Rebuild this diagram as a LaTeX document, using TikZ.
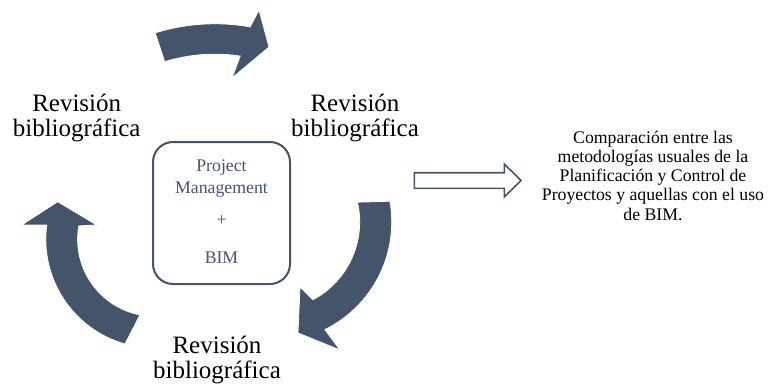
\documentclass[tikz,border=0pt]{standalone}
\usepackage{fontspec}
\setmainfont{Liberation Serif}
\definecolor{slate}{HTML}{44546A}
\begin{document}
\begin{tikzpicture}[x=0.75pt,y=-0.75pt,
  cyclearrow/.style={fill=slate,draw=white,line width=0.6pt,line join=miter},
  biglabel/.style={align=center,inner sep=0pt,font=\fontsize{18.75pt}{18.75pt}\selectfont},
  hub/.style={draw=slate,line width=1.5pt,rounded corners=15pt,minimum width=102.75pt,minimum height=106.5pt,inner sep=0pt},
  hubtext/.style={align=center,inner sep=0pt,text=slate,font=\fontsize{13.3pt}{16.2pt}\selectfont},
  outtext/.style={align=center,inner sep=0pt,font=\fontsize{13.3pt}{14.4pt}\selectfont},
  hollow/.style={draw=slate,line width=1.2pt,fill=white,line join=miter}]
\useasboundingbox (0,0) rectangle (768,389);
% labels (base anchor = baseline of the last line)
\node[biglabel,anchor=base] (lbl) at (76.7,136.5) {Revisión\\bibliográfica};
\node[biglabel,anchor=base] (lbr) at (355,136.5) {Revisión\\bibliográfica};
\node[biglabel,anchor=base] (lbb) at (217,378) {Revisión\\bibliográfica};
% central box
\node[hub] (hub) at (221.5,213) {};
\node[hubtext,anchor=base] (hubt) at (221.5,263.3) {Project\\Management\\[8.3pt]+\\[11.8pt]BIM};
% cycle arrows
\fill[cyclearrow] (164.7,61.8) -- (155.2,32.9) arc[start angle=-107.4,end angle=-79.8,radius=199.4]
  -- (259,10) -- (269,47) -- (232,78) -- (240.2,56.1) arc[start angle=-81.3,end angle=-107.2,radius=169] -- cycle;
\fill[cyclearrow] (357.4,202.2) -- (389.9,201.2) arc[start angle=-10,end angle=63.7,radius=120]
  -- (340,350) -- (298,333) -- (300,287) -- (313,299.7) arc[start angle=62,end angle=-13,radius=88] -- cycle;
\fill[cyclearrow] (139.9,314.9) -- (125,344) arc[start angle=105.8,end angle=187.5,radius=108.8]
  -- (21.7,225) -- (57.7,201.7) -- (96.7,225) -- (78.8,225.9) arc[start angle=190,end angle=101,radius=77] -- cycle;
% hollow arrow
\draw[hollow] (414.3,172.7) -- (504.3,172.7) -- (504.3,164) -- (521,180.5) -- (504.3,197) -- (504.3,188.3) -- (414.3,188.3) -- cycle;
% output text
\node[outtext,anchor=base] (out) at (653,220) {Comparación entre las\\metodologías usuales de la\\Planificación y Control de\\Proyectos y aquellas con el uso\\de BIM.};
\end{tikzpicture}
\end{document}
